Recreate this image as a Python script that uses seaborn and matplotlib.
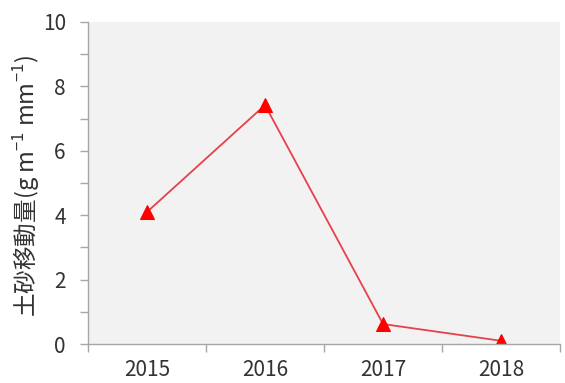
import numpy as np
import matplotlib
matplotlib.use("Agg")
import matplotlib.pyplot as plt
import seaborn as sns
from matplotlib.ticker import MultipleLocator, FixedLocator

years = ["2015", "2016", "2017", "2018"]
values = [4.1, 7.42, 0.62, 0.1]
y_ticks = [0, 2, 4, 6, 8, 10]

sns.set_theme(style="white")
plt.rcParams['font.family'] = ['Noto Sans CJK JP', 'DejaVu Sans']
plt.rcParams['mathtext.fontset'] = 'custom'
plt.rcParams['mathtext.rm'] = 'Noto Sans CJK JP'

fig = plt.figure(figsize=(5.65, 3.83), dpi=100)
ax = fig.add_axes([0.1558, 0.1018, 0.9912 - 0.1558, 0.9426 - 0.1018])
ax.set_facecolor("#f2f2f2")

pos = np.arange(len(years))
sns.lineplot(x=pos, y=values, ax=ax, color="#e8404a", linewidth=1.3,
             marker="^", markersize=10, markerfacecolor="#ff0000",
             markeredgecolor="#ff0000")

ax.set_xlim(-0.5, len(years) - 0.5)
ax.set_ylim(0, 10)
ax.set_xticks(pos)
ax.set_xticklabels(years)
ax.xaxis.set_minor_locator(FixedLocator(np.arange(-0.5, len(years), 1.0)))
ax.set_yticks(y_ticks)
ax.yaxis.set_minor_locator(MultipleLocator(1))

for s in ["top", "right"]:
    ax.spines[s].set_visible(False)
for s in ["left", "bottom"]:
    ax.spines[s].set_color("#a6a6a6")
    ax.spines[s].set_linewidth(1.0)

ax.tick_params(axis="x", which="major", length=0, labelsize=15, colors="#333333", pad=11)
ax.tick_params(axis="x", which="minor", length=6, width=1, color="#a6a6a6", direction="out")
ax.tick_params(axis="y", which="major", length=6, width=1, color="#a6a6a6", direction="out",
               labelsize=15, labelcolor="#333333", pad=10)
ax.tick_params(axis="y", which="minor", length=6, width=1, color="#a6a6a6", direction="out")
ax.tick_params(axis="both", which="both", left=True, bottom=True)

ax.set_ylabel("土砂移動量(g m$^{-1}$ mm$^{-1}$)", fontsize=17, color="#333333")
ax.yaxis.set_label_coords(-0.097, 0.49)
ax.grid(False)

fig.savefig("out.png", dpi=100)
